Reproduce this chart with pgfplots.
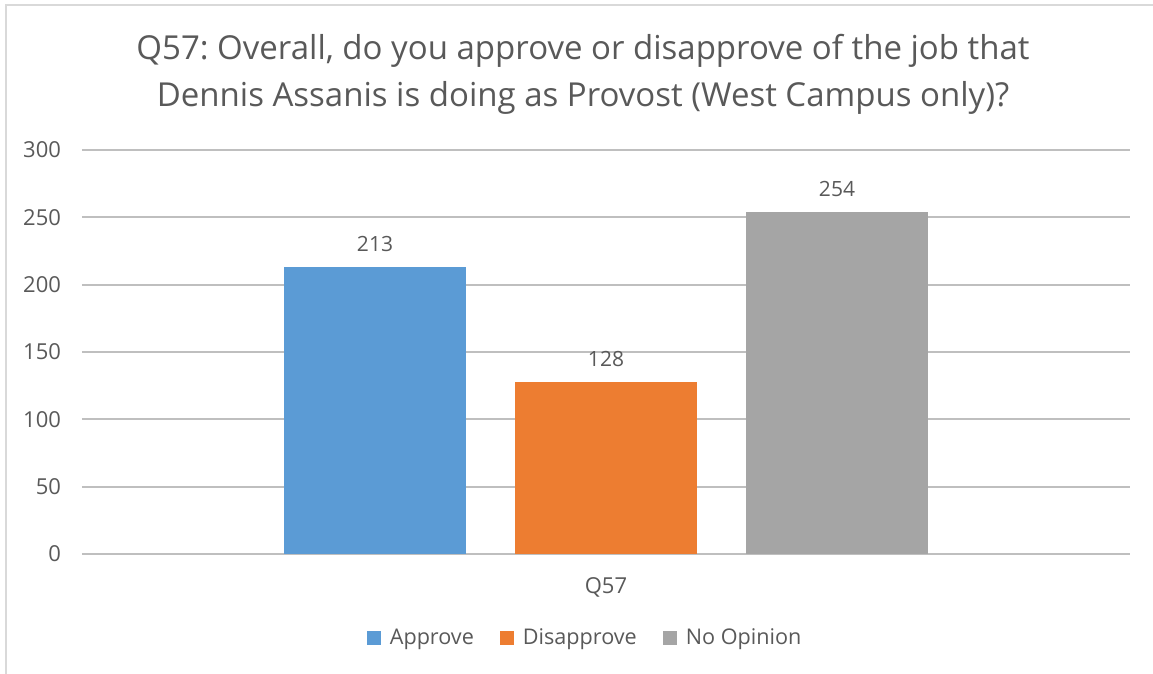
\documentclass[border=0pt]{standalone}
\usepackage{pgfplots}
\pgfplotsset{compat=1.18}
\usepackage{fontspec}
\setmainfont{Open Sans}
\frenchspacing
\definecolor{txt}{HTML}{595959}
\definecolor{grid}{HTML}{D9D9D9}
\definecolor{cA}{HTML}{5B9BD5}
\definecolor{cD}{HTML}{ED7D31}
\definecolor{cN}{HTML}{A5A5A5}
\begin{document}
\begin{tikzpicture}
\useasboundingbox (0,0) rectangle (576.5pt,337pt);
\draw[grid, line width=1pt] (3pt,0) -- (3pt,334.25pt) -- (576.5pt,334.25pt);
\begin{axis}[
  at={(41pt,60pt)}, anchor=south west,
  scale only axis, width=524pt, height=202pt,
  xmin=-1, xmax=1, ymin=0, ymax=300,
  ytick={0,50,...,300},
  xtick={0}, xticklabels={Q57},
  ybar=24.5pt, bar width=91pt,
  axis line style={draw=none},
  major tick length=0pt,
  xmajorgrids=false, ymajorgrids=true, grid style={grid, line width=1pt},
  tick label style={txt, font=\fontsize{11}{13}\selectfont},
  /pgf/number format/assume math mode=true,
  yticklabel style={xshift=-7pt},
  xticklabel style={yshift=-8pt},
  nodes near coords,
  every node near coord/.append style={txt, font=\fontsize{10.5}{12}\selectfont, yshift=4pt},
  legend style={at={(0.481,-0.208)}, anchor=center, draw=none, legend columns=3,
    font=\fontsize{10.8}{13}\selectfont, text=txt,
    /tikz/every even column/.append style={column sep=11pt}},
  legend image code/.code={\fill[#1] (0pt,-3.5pt) rectangle (7pt,3.5pt);},
]
\addplot[fill=cA, draw=none] coordinates {(0,213)};
\addplot[fill=cD, draw=none] coordinates {(0,128)};
\addplot[fill=cN, draw=none] coordinates {(0,254)};
\legend{\hspace*{2.5pt}Approve, \hspace*{2.5pt}Disapprove, \hspace*{2.5pt}No Opinion}
\end{axis}
\node[txt, align=center, font=\fontsize{16.5}{23.5}\selectfont] at (291.5pt,300pt)
  {Q57: Overall, do you approve or disapprove of the job that\\Dennis Assanis is doing as Provost (West Campus only)?};
\end{tikzpicture}
\end{document}
